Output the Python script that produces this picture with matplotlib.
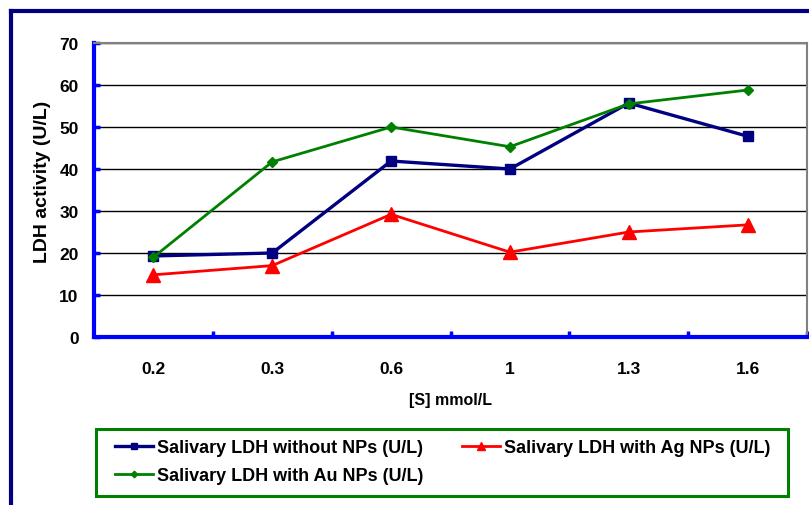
import numpy as np
import matplotlib
matplotlib.use("Agg")
import matplotlib.pyplot as plt
from matplotlib.lines import Line2D
from matplotlib.patches import Rectangle

plt.rcParams['font.family'] = ['Liberation Sans', 'DejaVu Sans']
plt.rcParams['font.weight'] = 'bold'

# Substrate concentrations and LDH activity (U/L)
conc = ['0.2', '0.3', '0.6', '1', '1.3', '1.6']
ldh_plain = [19.3, 20.0, 41.9, 40.0, 55.7, 47.8]
ldh_ag = [14.8, 17.0, 29.2, 20.2, 25.0, 26.7]
ldh_au = [19.0, 41.7, 50.0, 45.3, 55.5, 58.8]

W, H = 809, 506
fig = plt.figure(figsize=(W/100, H/100), dpi=100)
ax = fig.add_axes([94/W, 1-338/H, (807-94)/W, (338-44)/H])

x = np.arange(len(conc))
l_plain, = ax.plot(x, ldh_plain, color='#000080', lw=2.4, marker='s', ms=6.5,
                   label='Salivary LDH without NPs (U/L)', zorder=4)
l_ag, = ax.plot(x, ldh_ag, color='#ff0000', lw=2.0, marker='^', ms=10.5,
                label='Salivary LDH with Ag NPs (U/L)', zorder=3)
l_au, = ax.plot(x, ldh_au, color='#008000', lw=2.0, marker='D', ms=5.5,
                label='Salivary LDH with Au NPs (U/L)', zorder=5)

ax.set_xlim(-0.5, len(conc) - 0.5)
ax.set_ylim(0, 70)
ax.set_yticks(range(0, 71, 10))
ax.yaxis.grid(True, color='black', lw=1.0)
ax.set_axisbelow(True)

ax.set_xticks(x)
ax.set_xticklabels(conc)
ax.set_xticks(np.arange(0.5, len(conc)), minor=True)
ax.tick_params(axis='x', which='major', length=0, pad=17, labelsize=12.5)
ax.tick_params(axis='x', which='minor', direction='in', length=4, width=2.5,
               color='#0000ff')
ax.tick_params(axis='y', direction='in', length=4, width=2.5, color='#0000ff',
               pad=11, labelsize=12.5)

for side in ('left', 'bottom'):
    ax.spines[side].set_color('#0000ff')
    ax.spines[side].set_linewidth(3)
for side in ('top', 'right'):
    ax.spines[side].set_color('#808080')
    ax.spines[side].set_linewidth(1.5)

ax.set_xlabel('[S] mmol/L', fontsize=11.5, fontweight='bold', labelpad=12)
ax.set_ylabel('LDH activity (U/L)', fontsize=14, fontweight='bold')
ax.yaxis.set_label_coords((51-94)/(807-94), (338-182)/(338-44))

# legend box drawn separately so its size is fixed
fig.add_artist(Rectangle((96/W, 1-497/H), 692/W, 67/H, transform=fig.transFigure,
                         fill=False, edgecolor='#008000', lw=2.2))
leg = fig.legend(handles=[l_plain, l_au, l_ag], ncol=2,
                 bbox_to_anchor=(115/W, 1-440/H), loc='upper left',
                 frameon=False, fontsize=13, markerscale=0.6,
                 handlelength=2.1, handletextpad=0.25, borderaxespad=0,
                 borderpad=0, labelspacing=0.6, columnspacing=2.1)

# outer chart frame (left and top edges)
fig.add_artist(Line2D([11/W, 11/W], [0, 1-12/H], transform=fig.transFigure,
                      color='#000080', lw=3, solid_capstyle='projecting'))
fig.add_artist(Line2D([11/W, 1], [1-12/H, 1-12/H], transform=fig.transFigure,
                      color='#000080', lw=3, solid_capstyle='projecting'))

fig.savefig('out.png', dpi=100)
